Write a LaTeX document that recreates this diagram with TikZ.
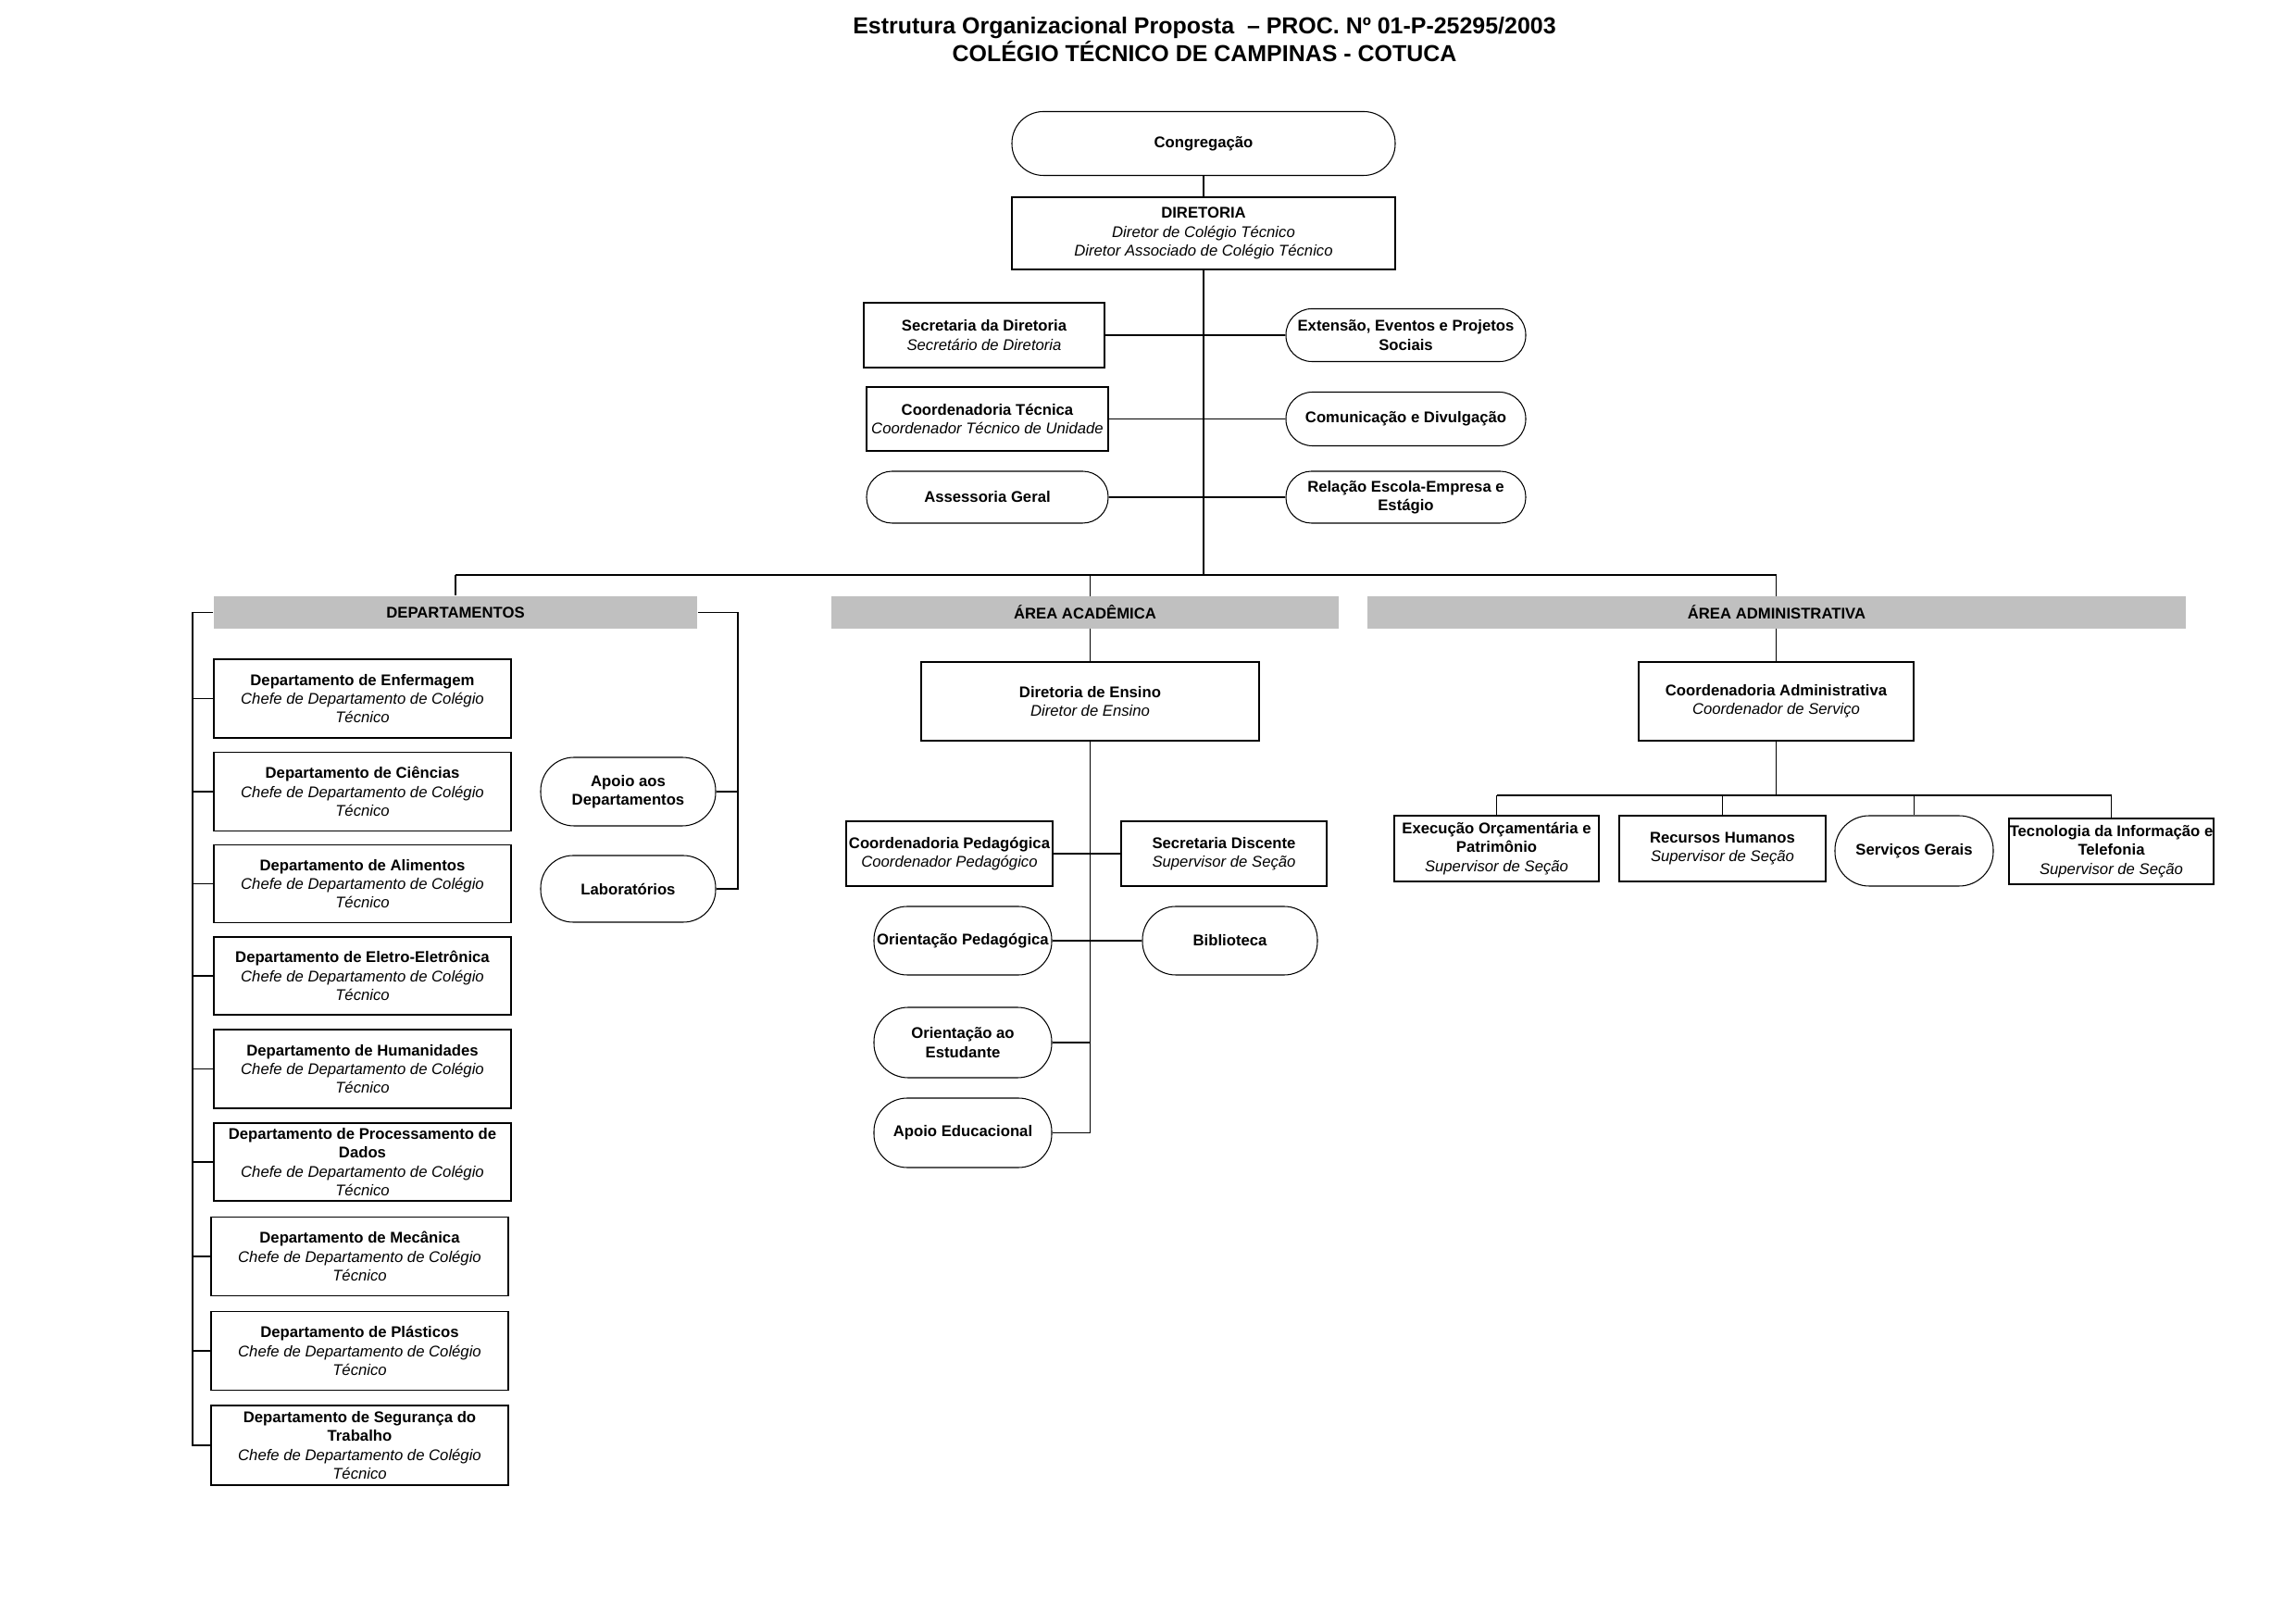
\documentclass[tikz,border=0pt]{standalone}
\usepackage{fontspec}
\setmainfont{Liberation Sans}
\usetikzlibrary{backgrounds}

\definecolor{faixacinza}{RGB}{192,192,192}
\newcommand{\cargo}[1]{{\mdseries\itshape #1}}

\tikzset{
    caixa/.style={draw, fill=white, line width=0.3pt, inner sep=0pt, align=center,
        font=\fontsize{4.75}{5.75}\selectfont\bfseries},
    oval/.style={caixa, rounded corners=#1},
    tam/.style 2 args={minimum width=#1, minimum height=#2},
    faixa/.style={fill=faixacinza, inner sep=0pt, minimum height=3.5mm,
        font=\fontsize{4.75}{5.75}\selectfont\bfseries},
    liga/.style={line width=0.3pt},
    tronco/.style={line width=0.5pt},
}

\begin{document}
\begin{tikzpicture}[x=1mm, y=-1mm]
    \useasboundingbox (0,0) rectangle (248,175.4);

    \node[font=\fontsize{7.1}{8.5}\selectfont\bfseries, align=center] (titulo) at (130.1,4.3)
        {Estrutura Organizacional Proposta~ -- PROC. Nº 01-P-25295/2003\\COLÉGIO TÉCNICO DE CAMPINAS - COTUCA};

    % direcao
    \node[oval=3.4mm, tam={41.4mm}{6.9mm}] (cong) at (130,15.5) {Congregação};
    \node[caixa, tam={41.4mm}{7.8mm}] (dir) at (130,25.2)
        {DIRETORIA\\\cargo{Diretor de Colégio Técnico}\\\cargo{Diretor Associado de Colégio Técnico}};

    \node[caixa, tam={26mm}{7mm}] (sec) at (106.3,36.2) {Secretaria da Diretoria\\\cargo{Secretário de Diretoria}};
    \node[caixa, tam={26.1mm}{6.9mm}] (ct) at (106.65,45.25) {Coordenadoria Técnica\\\cargo{Coordenador Técnico de Unidade}};
    \node[oval=2.75mm, tam={26.1mm}{5.6mm}] (ass) at (106.65,53.7) {Assessoria Geral};
    \node[oval=2.8mm, tam={25.9mm}{5.7mm}] (ext) at (151.85,36.2) {Extensão, Eventos e Projetos\\Sociais};
    \node[oval=2.85mm, tam={25.9mm}{5.8mm}] (com) at (151.85,45.25) {Comunicação e Divulgação};
    \node[oval=2.75mm, tam={25.9mm}{5.6mm}] (rel) at (151.85,53.7) {Relação Escola-Empresa e\\Estágio};

    \coordinate (bus) at (130,62.1);

    % faixas
    \node[faixa, minimum width=52.2mm] (hdep) at (49.2,66.15) {DEPARTAMENTOS};
    \node[faixa, minimum width=54.8mm] (hacad) at (117.2,66.15) {ÁREA ACADÊMICA};
    \node[faixa, minimum width=88.4mm] (hadm) at (191.9,66.15) {ÁREA ADMINISTRATIVA};

    % departamentos
    \node[caixa, tam={32.1mm}{8.5mm}] (d1) at (39.15,75.45)
        {Departamento de Enfermagem\\\cargo{Chefe de Departamento de Colégio}\\\cargo{Técnico}};
    \node[caixa, tam={32.1mm}{8.5mm}] (d2) at (39.15,85.5)
        {Departamento de Ciências\\\cargo{Chefe de Departamento de Colégio}\\\cargo{Técnico}};
    \node[caixa, tam={32.1mm}{8.4mm}] (d3) at (39.15,95.45)
        {Departamento de Alimentos\\\cargo{Chefe de Departamento de Colégio}\\\cargo{Técnico}};
    \node[caixa, tam={32.1mm}{8.4mm}] (d4) at (39.15,105.4)
        {Departamento de Eletro-Eletrônica\\\cargo{Chefe de Departamento de Colégio}\\\cargo{Técnico}};
    \node[caixa, tam={32.1mm}{8.5mm}] (d5) at (39.15,115.45)
        {Departamento de Humanidades\\\cargo{Chefe de Departamento de Colégio}\\\cargo{Técnico}};
    \node[caixa, tam={32.1mm}{8.4mm}] (d6) at (39.15,125.5)
        {Departamento de Processamento de\\Dados\\\cargo{Chefe de Departamento de Colégio}\\\cargo{Técnico}};
    \node[caixa, tam={32.1mm}{8.5mm}] (d7) at (38.85,135.7)
        {Departamento de Mecânica\\\cargo{Chefe de Departamento de Colégio}\\\cargo{Técnico}};
    \node[caixa, tam={32.1mm}{8.5mm}] (d8) at (38.85,145.9)
        {Departamento de Plásticos\\\cargo{Chefe de Departamento de Colégio}\\\cargo{Técnico}};
    \node[caixa, tam={32.1mm}{8.6mm}] (d9) at (38.85,156.1)
        {Departamento de Segurança do\\Trabalho\\\cargo{Chefe de Departamento de Colégio}\\\cargo{Técnico}};

    \node[oval=3.6mm, tam={18.9mm}{7.4mm}] (apd) at (67.85,85.5) {Apoio aos\\Departamentos};
    \node[oval=3.5mm, tam={18.9mm}{7.2mm}] (lab) at (67.85,96) {Laboratórios};

    \coordinate (colL) at (20.8,66.15);
    \coordinate (colR) at (79.7,66.15);

    % area academica
    \node[caixa, tam={36.5mm}{8.5mm}] (ens) at (117.75,75.75) {Diretoria de Ensino\\\cargo{Diretor de Ensino}};
    \node[caixa, tam={22.3mm}{7mm}] (cped) at (102.55,92.2) {Coordenadoria Pedagógica\\\cargo{Coordenador Pedagógico}};
    \node[caixa, tam={22.2mm}{7mm}] (sdis) at (132.2,92.2) {Secretaria Discente\\\cargo{Supervisor de Seção}};
    \node[oval=3.6mm, tam={19.2mm}{7.4mm}] (oped) at (104,101.6) {Orientação Pedagógica};
    \node[oval=3.6mm, tam={18.9mm}{7.4mm}] (bib) at (132.85,101.6) {Biblioteca};
    \node[oval=3.7mm, tam={19.2mm}{7.6mm}] (oest) at (104,112.6) {Orientação ao\\Estudante};
    \node[oval=3.6mm, tam={19.2mm}{7.5mm}] (aped) at (104,122.35) {Apoio Educacional};

    % area administrativa
    \node[caixa, tam={29.7mm}{8.5mm}] (cadm) at (191.85,75.75) {Coordenadoria Administrativa\\\cargo{Coordenador de Serviço}};
    \coordinate (admbus) at (191.85,85.9);
    \node[caixa, tam={22.1mm}{7.1mm}] (eo) at (161.65,91.65) {Execução Orçamentária e\\Patrimônio\\\cargo{Supervisor de Seção}};
    \node[caixa, tam={22.3mm}{7.1mm}] (rh) at (186.05,91.65) {Recursos Humanos\\\cargo{Supervisor de Seção}};
    \node[oval=3.7mm, tam={17.1mm}{7.6mm}] (sg) at (206.75,91.9) {Serviços Gerais};
    \node[caixa, tam={22.1mm}{7.1mm}] (ti) at (228.05,91.95) {Tecnologia da Informação e\\Telefonia\\\cargo{Supervisor de Seção}};

    \begin{scope}[on background layer]
        \draw[liga] (cong.south) -- (dir.north);
        \draw[tronco] (dir.south) -- (bus);
        \draw[liga] (sec.east) -- (ext.west);
        \draw[liga] (ct.east) -- (com.west);
        \draw[liga] (ass.east) -- (rel.west);

        \draw[liga] (hdep.north |- bus) -- (hadm.north |- bus);
        \draw[liga] (hdep.north |- bus) -- (hdep.north);
        \draw[liga] (ens.north |- bus) -- (ens.north);
        \draw[liga] (cadm.north |- bus) -- (cadm.north);

        % chaves dos departamentos
        \draw[tronco] (hdep.west) -- (colL) -- (colL |- d9.west) -- (d9.west);
        \draw[liga] (colL |- d1.west) -- (d1.west);
        \draw[liga] (colL |- d2.west) -- (d2.west);
        \draw[liga] (colL |- d3.west) -- (d3.west);
        \draw[liga] (colL |- d4.west) -- (d4.west);
        \draw[liga] (colL |- d5.west) -- (d5.west);
        \draw[liga] (colL |- d6.west) -- (d6.west);
        \draw[liga] (colL |- d7.west) -- (d7.west);
        \draw[liga] (colL |- d8.west) -- (d8.west);
        \draw[tronco] (hdep.east) -- (colR) -- (colR |- lab.east) -- (lab.east);
        \draw[liga] (apd.east) -- (colR |- apd.east);

        \draw[tronco] (ens.south) -- (ens.south |- aped.east);
        \draw[liga] (aped.east) -- (ens.south |- aped.east);
        \draw[liga] (oest.east) -- (ens.south |- oest.east);
        \draw[liga] (cped.east) -- (sdis.west);
        \draw[liga] (oped.east) -- (bib.west);

        \draw[tronco] (cadm.south) -- (admbus);
        \draw[liga] (eo.north |- admbus) -- (ti.north |- admbus);
        \draw[liga] (eo.north |- admbus) -- (eo.north);
        \draw[liga] (rh.north |- admbus) -- (rh.north);
        \draw[liga] (sg.north |- admbus) -- (sg.north);
        \draw[liga] (ti.north |- admbus) -- (ti.north);
    \end{scope}
\end{tikzpicture}
\end{document}
